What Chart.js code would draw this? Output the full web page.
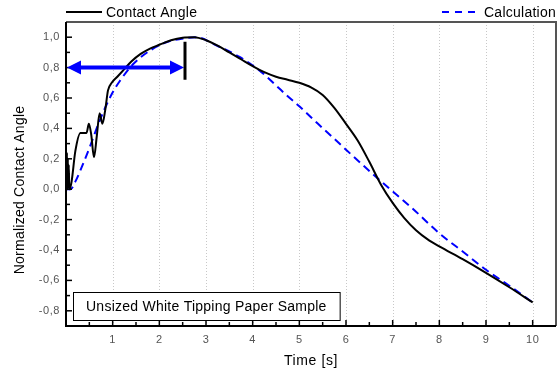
<!DOCTYPE html>
<html>
<head>
<meta charset="utf-8">
<script src="https://cdn.jsdelivr.net/npm/chart.js@4/dist/chart.umd.min.js"></script>
<style>
  html, body { margin: 0; padding: 0; background: #fff; }
  #wrap { width: 558px; height: 374px; }
</style>
</head>
<body>
<div id="wrap"><canvas id="chartCA" width="558" height="374"></canvas></div>
<script>
// measured contact angle (normalized)
const caTime = [0, 0.01, 0.02, 0.03, 0.04, 0.05, 0.06, 0.07, 0.08, 0.12, 0.2, 0.31, 0.38, 0.44, 0.49, 0.54, 0.6, 0.66, 0.72, 0.78, 0.84, 0.9, 0.98, 1.1, 1.25, 1.4, 1.6, 1.8, 2.0, 2.25, 2.5, 2.75, 3.0, 3.25, 3.5, 3.75, 4.0, 4.25, 4.5, 4.75, 5.0, 5.25, 5.5, 5.75, 6.0, 6.25, 6.5, 6.75, 7.0, 7.25, 7.5, 7.75, 8.0, 8.5, 9.0, 9.5, 10.0];
const caValue = [0.27, 0.02, 0.24, 0.0, 0.2, 0.01, 0.16, 0.0, 0.0, 0.05, 0.25, 0.37, 0.37, 0.37, 0.43, 0.36, 0.21, 0.35, 0.5, 0.43, 0.52, 0.65, 0.70, 0.74, 0.79, 0.84, 0.89, 0.925, 0.95, 0.98, 0.997, 1.0, 0.98, 0.945, 0.9, 0.855, 0.81, 0.77, 0.74, 0.72, 0.70, 0.67, 0.62, 0.535, 0.43, 0.32, 0.18, 0.03, -0.09, -0.19, -0.27, -0.33, -0.376, -0.46, -0.55, -0.645, -0.745];

// calculation
const calcTime = [0, 0.1, 0.2, 0.33, 0.5, 0.72, 0.97, 1.15, 1.43, 1.79, 2.15, 2.58, 2.8, 3.22, 3.72, 4.15, 4.51, 4.72, 5.0, 5.4, 5.79, 6.0, 6.72, 7.4, 8.0, 8.5, 9.0, 9.5, 10.0];
const calcValue = [0, 0.0, 0.05, 0.14, 0.27, 0.45, 0.62, 0.71, 0.82, 0.91, 0.967, 0.995, 1.0, 0.946, 0.87, 0.78, 0.68, 0.62, 0.545, 0.43, 0.32, 0.26, 0.06, -0.12, -0.29, -0.41, -0.53, -0.635, -0.745];

// axis ticks
const xLabels = [1, 2, 3, 4, 5, 6, 7, 8, 9, 10];
const yLabels = [-0.8, -0.6, -0.4, -0.2, 0, 0.2, 0.4, 0.6, 0.8, 1.0];

// annotation: arrow from t=0 to bar at 0.8, bar at t=2.55
const arrowFrom = 0, arrowTo = 2.55, arrowLevel = 0.8;
const barTime = 2.55, barLow = 0.72, barHigh = 0.97;
const boxText = 'Unsized White Tipping Paper Sample';
const yTitle = 'Normalized Contact Angle';

const FONT = '"Liberation Sans", Arial, sans-serif';

const toXY = (xs, ys) => xs.map((x, i) => ({ x, y: ys[i] }));

const decorations = {
  id: 'decorations',
  beforeDraw(chart) {
    // the original tick labels are a little letter-spaced
    chart.ctx.letterSpacing = '0.6px';
  },
  beforeDatasetsDraw(chart) {
    const { ctx, chartArea: a, scales: { x } } = chart;
    ctx.save();
    // dotted vertical grid
    ctx.strokeStyle = '#c8c8c8';
    ctx.lineWidth = 1;
    ctx.setLineDash([1, 2]);
    xLabels.forEach(v => {
      const px = Math.round(x.getPixelForValue(v)) + 0.5;
      ctx.beginPath();
      ctx.moveTo(px, a.top);
      ctx.lineTo(px, a.bottom);
      ctx.stroke();
    });
    ctx.restore();
  },
  afterDatasetsDraw(chart) {
    const { ctx, chartArea: a, scales: { x, y } } = chart;
    ctx.save();
    ctx.letterSpacing = '0.25px';

    // frame
    ctx.setLineDash([]);
    ctx.lineWidth = 2;
    ctx.strokeStyle = '#555';
    ctx.beginPath();
    ctx.moveTo(a.left, a.top);
    ctx.lineTo(a.right, a.top);
    ctx.lineTo(a.right, a.bottom);
    ctx.stroke();
    ctx.strokeStyle = '#000';
    ctx.beginPath();
    ctx.moveTo(a.left, a.top);
    ctx.lineTo(a.left, a.bottom);
    ctx.lineTo(a.right, a.bottom);
    ctx.stroke();

    // inward ticks
    ctx.lineWidth = 1.5;
    for (let v = 0.5; v <= 10.01; v += 0.5) {
      const px = x.getPixelForValue(v);
      const len = Number.isInteger(v) ? 6 : 4;
      ctx.beginPath();
      ctx.moveTo(px, a.bottom);
      ctx.lineTo(px, a.bottom - len);
      ctx.stroke();
    }
    for (let k = -8; k <= 10; k++) {
      const py = y.getPixelForValue(k / 10);
      const len = k % 2 === 0 ? 6 : 4;
      ctx.beginPath();
      ctx.moveTo(a.left, py);
      ctx.lineTo(a.left + len, py);
      ctx.stroke();
    }

    // double arrow
    const ay = y.getPixelForValue(arrowLevel);
    const ax0 = x.getPixelForValue(arrowFrom) + 1;
    const ax1 = x.getPixelForValue(arrowTo) - 1;
    ctx.strokeStyle = '#0000ff';
    ctx.fillStyle = '#0000ff';
    ctx.lineWidth = 4;
    ctx.beginPath();
    ctx.moveTo(ax0 + 10, ay);
    ctx.lineTo(ax1 - 10, ay);
    ctx.stroke();
    ctx.beginPath();
    ctx.moveTo(ax0, ay);
    ctx.lineTo(ax0 + 14, ay - 7);
    ctx.lineTo(ax0 + 14, ay + 7);
    ctx.closePath();
    ctx.fill();
    ctx.beginPath();
    ctx.moveTo(ax1, ay);
    ctx.lineTo(ax1 - 14, ay - 7);
    ctx.lineTo(ax1 - 14, ay + 7);
    ctx.closePath();
    ctx.fill();

    // vertical bar
    const bx = x.getPixelForValue(barTime);
    ctx.strokeStyle = '#000';
    ctx.lineWidth = 3;
    ctx.beginPath();
    ctx.moveTo(bx, y.getPixelForValue(barHigh));
    ctx.lineTo(bx, y.getPixelForValue(barLow));
    ctx.stroke();

    // text box
    ctx.font = '14px ' + FONT;
    const tw = ctx.measureText(boxText).width;
    const bxl = a.left + 7, byt = a.bottom - 34, bh = 28;
    ctx.fillStyle = '#fff';
    ctx.fillRect(bxl, byt, tw + 26, bh);
    ctx.strokeStyle = '#000';
    ctx.lineWidth = 1;
    ctx.strokeRect(bxl + 0.5, byt + 0.5, tw + 26, bh);
    ctx.fillStyle = '#000';
    ctx.textBaseline = 'middle';
    ctx.fillText(boxText, bxl + 13, byt + bh / 2 + 1);

    // legend
    const ly = a.top - 10;
    ctx.lineWidth = 2;
    ctx.strokeStyle = '#000';
    ctx.beginPath();
    ctx.moveTo(a.left, ly);
    ctx.lineTo(a.left + 36, ly);
    ctx.stroke();
    ctx.fillStyle = '#000';
    ctx.textAlign = 'left';
    ctx.fillText('Contact Angle', a.left + 40, ly + 1);
    ctx.textAlign = 'right';
    const cw = ctx.measureText('Calculation').width;
    ctx.fillText('Calculation', a.right, ly + 1);
    ctx.strokeStyle = '#0000ff';
    ctx.setLineDash([7, 6]);
    ctx.beginPath();
    ctx.moveTo(a.right - cw - 42, ly);
    ctx.lineTo(a.right - cw - 3, ly);
    ctx.stroke();

    // y axis title
    ctx.setLineDash([]);
    ctx.translate(20, 190);
    ctx.rotate(-Math.PI / 2);
    ctx.textAlign = 'center';
    ctx.fillText(yTitle, 0, 0);

    ctx.restore();
  }
};

new Chart(document.getElementById('chartCA').getContext('2d'), {
  type: 'line',
  data: {
    datasets: [
      {
        label: 'Contact Angle',
        data: toXY(caTime, caValue),
        borderColor: '#000',
        borderWidth: 2,
        pointRadius: 0,
        cubicInterpolationMode: 'monotone'
      },
      {
        label: 'Calculation',
        data: toXY(calcTime, calcValue),
        borderColor: '#0000ff',
        borderWidth: 2,
        borderDash: [8, 5],
        pointRadius: 0,
        cubicInterpolationMode: 'monotone'
      }
    ]
  },
  options: {
    responsive: false,
    animation: false,
    layout: { padding: { top: 22, right: 2, left: 0, bottom: 0 } },
    plugins: { legend: { display: false }, tooltip: { enabled: false } },
    scales: {
      x: {
        type: 'linear',
        min: 0,
        max: 10.5,
        grid: { display: false, drawTicks: false },
        border: { display: false },
        afterFit: s => { s.height = 48; },
        afterBuildTicks: s => { s.ticks = xLabels.map(v => ({ value: v })); },
        ticks: {
          autoSkip: false,
          maxRotation: 0,
          padding: 7,
          color: '#555',
          font: { family: FONT, size: 11 },
          callback: v => String(v)
        },
        title: {
          display: true,
          text: 'Time [s]',
          color: '#000',
          font: { family: FONT, size: 14 },
          padding: { top: 0, bottom: 4 }
        }
      },
      y: {
        min: -0.9,
        max: 1.1,
        grid: { display: false, drawTicks: false },
        border: { display: false },
        afterFit: s => { s.width = 66; },
        afterBuildTicks: s => { s.ticks = yLabels.map(v => ({ value: v })); },
        ticks: {
          autoSkip: false,
          padding: 6,
          color: '#555',
          font: { family: FONT, size: 11 },
          callback: v => v.toFixed(1).replace('.', ',')
        },
        title: { display: false }
      }
    }
  },
  plugins: [decorations]
});
</script>
</body>
</html>
